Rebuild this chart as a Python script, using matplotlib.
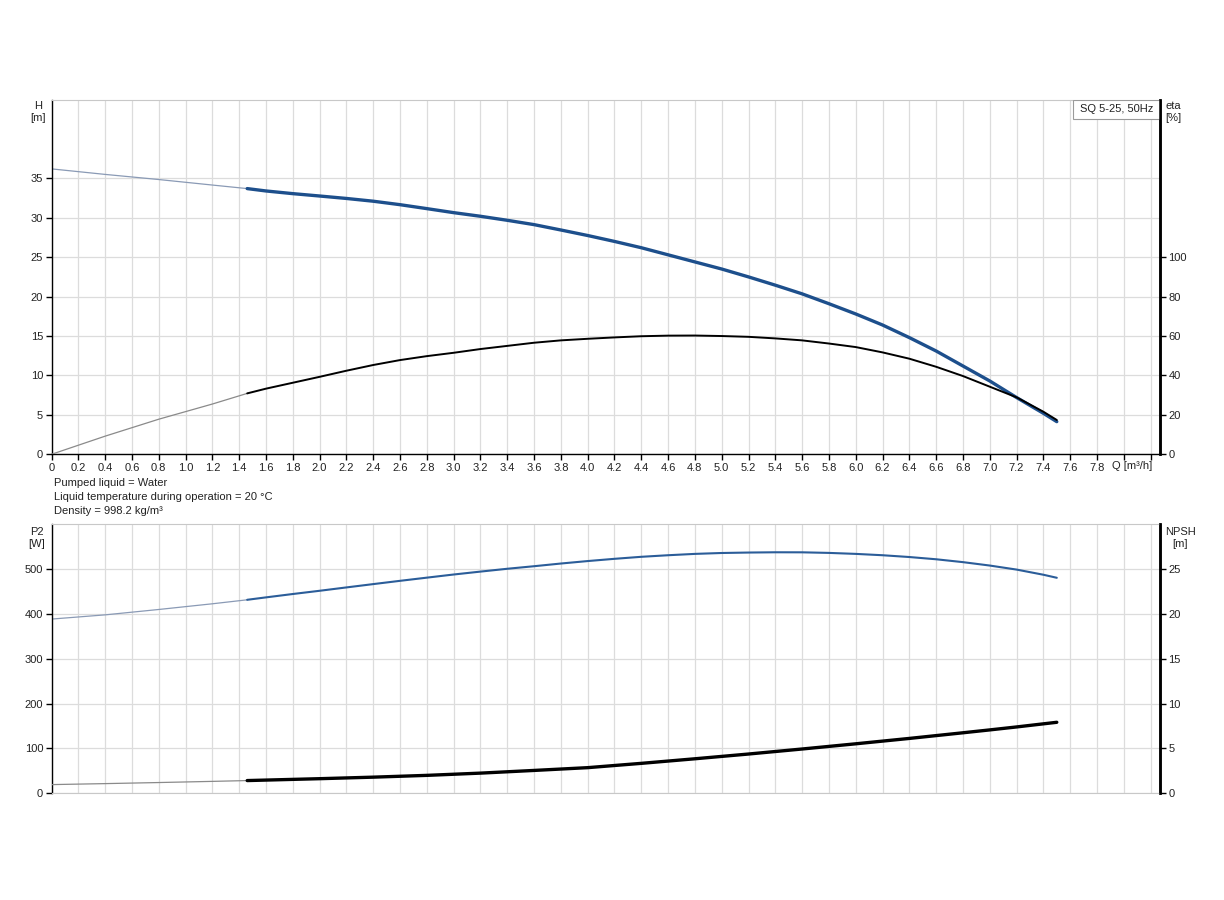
import numpy as np
import matplotlib
matplotlib.use("Agg")
import matplotlib.pyplot as plt
from matplotlib.patches import Rectangle
from matplotlib.transforms import blended_transform_factory

plt.rcParams['font.family'] = ['Liberation Sans', 'DejaVu Sans']

# ---------------- data ----------------
# head H [m] (thin part = outside recommended range)
q_h_thin = [0.0, 0.4, 0.8, 1.2, 1.46]
h_thin = [36.2, 35.5, 34.85, 34.15, 33.7]
q_h = [1.46, 1.6, 1.8, 2.0, 2.2, 2.4, 2.6, 2.8, 3.0, 3.2, 3.4, 3.6, 3.8, 4.0, 4.2, 4.4,
       4.6, 4.8, 5.0, 5.2, 5.4, 5.6, 5.8, 6.0, 6.2, 6.4, 6.6, 6.8, 7.0, 7.2, 7.4, 7.5]
h_vals = [33.7, 33.4, 33.06, 32.76, 32.45, 32.1, 31.66, 31.16, 30.65, 30.19, 29.68, 29.13,
          28.45, 27.75, 27.0, 26.2, 25.3, 24.4, 23.5, 22.5, 21.45, 20.35, 19.1, 17.8, 16.4,
          14.8, 13.1, 11.2, 9.3, 7.2, 5.2, 4.14]

# efficiency eta [%]
q_eta_thin = [0.0, 0.4, 0.8, 1.2, 1.46]
eta_thin = [0.0, 9.2, 17.8, 25.5, 30.9]
q_eta = q_h
eta_vals = [30.9, 33.3, 36.3, 39.3, 42.4, 45.3, 47.8, 49.8, 51.5, 53.4, 55.0, 56.6, 57.8,
            58.6, 59.3, 59.9, 60.2, 60.25, 60.0, 59.6, 58.8, 57.8, 56.2, 54.4, 51.7, 48.5,
            44.4, 39.7, 34.3, 28.9, 21.6, 17.4]

# shaft power P2 [W]
q_p_thin = [0.0, 0.4, 0.8, 1.2, 1.46]
p2_thin = [388.6, 398.0, 410.0, 422.7, 431.6]
q_p = q_h
p2_vals = [431.6, 437.0, 444.5, 451.7, 459.2, 466.6, 473.9, 481.0, 488.0, 494.5, 500.8,
           506.5, 512.5, 518.0, 523.0, 527.5, 531.0, 534.0, 536.0, 537.0, 537.6, 537.5,
           536.2, 534.0, 531.0, 527.0, 522.0, 515.6, 508.0, 499.0, 487.5, 480.7]

# NPSH [m]
q_n_thin = [0.0, 0.4, 0.8, 1.2, 1.46]
npsh_thin = [0.97, 1.08, 1.2, 1.33, 1.42]
q_n = [1.46, 2.0, 2.4, 2.8, 3.2, 3.6, 4.0, 4.4, 4.8, 5.2, 5.6, 6.0, 6.4, 6.8, 7.0, 7.2, 7.5]
npsh_vals = [1.42, 1.63, 1.8, 2.0, 2.25, 2.55, 2.86, 3.34, 3.85, 4.38, 4.94, 5.52, 6.12,
             6.75, 7.07, 7.4, 7.92]

x_ticks = [round(0.2 * i, 1) for i in range(42)]
x_labels = ['0'] + ['%.1f' % v for v in x_ticks[1:40]] + ['', '']
info_lines = ['Pumped liquid = Water',
              'Liquid temperature during operation = 20 \u00b0C',
              'Density = 998.2 kg/m\u00b3']

# ---------------- styling ----------------
FS = 8
BLUE = '#1d4f8c'
BLUE2 = '#2b5d99'
THIN_B = '#8a9ab5'
THIN_K = '#8a8a8a'
GRID = '#dcdcdc'
XMAX = 8.27

fig = plt.figure(figsize=(12.24, 9.0), dpi=100)
W, H = 1224.0, 900.0
left, right = 51.5 / W, 1160 / W
ax1 = fig.add_axes([left, 1 - 454.3 / H, right - left, (454.3 - 99.5) / H])
ax2 = fig.add_axes([left, 1 - 793.3 / H, right - left, (793.3 - 524.3) / H])


def style(ax, ylim, yticks, show_x):
    ax.set_xlim(0, XMAX)
    ax.set_ylim(*ylim)
    ax.set_xticks(x_ticks)
    ax.set_yticks(yticks)
    ax.grid(True, color=GRID, linewidth=0.9)
    ax.set_axisbelow(True)
    ax.spines['top'].set_color('#c8c8c8')
    ax.spines['top'].set_linewidth(0.8)
    ax.spines['left'].set_color('black')
    ax.spines['left'].set_linewidth(1.0)
    ax.spines['right'].set_color('black')
    ax.spines['right'].set_linewidth(1.8)
    if show_x:
        ax.spines['bottom'].set_color('black')
        ax.spines['bottom'].set_linewidth(1.0)
        ax.set_xticklabels(x_labels)
        ax.tick_params(axis='x', length=4, width=1.0, pad=2, labelsize=FS, colors='black',
                       labelcolor='#222222')
    else:
        ax.spines['bottom'].set_color('#c8c8c8')
        ax.spines['bottom'].set_linewidth(0.8)
        ax.tick_params(axis='x', length=0, labelbottom=False)
    ax.tick_params(axis='y', length=4, width=1.0, pad=2, labelsize=FS, labelcolor='#222222')


style(ax1, (0, 45), [0, 5, 10, 15, 20, 25, 30, 35], True)
style(ax2, (0, 600), [0, 100, 200, 300, 400, 500], False)

ax1r = ax1.twinx()
ax1r.set_ylim(0, 180)
ax1r.set_yticks([0, 20, 40, 60, 80, 100])
ax1r.tick_params(axis='y', length=4, width=1.0, pad=2, labelsize=FS, labelcolor='#222222')
ax2r = ax2.twinx()
ax2r.set_ylim(0, 30)
ax2r.set_yticks([0, 5, 10, 15, 20, 25])
ax2r.tick_params(axis='y', length=4, width=1.0, pad=2, labelsize=FS, labelcolor='#222222')
for a in (ax1r, ax2r):
    a.spines['right'].set_linewidth(1.8)
    a.spines['top'].set_visible(False)
    a.spines['bottom'].set_visible(False)
    a.spines['left'].set_visible(False)

# ---------------- curves ----------------
ax1.plot(q_h_thin, h_thin, color=THIN_B, lw=0.9, solid_capstyle='round')
ax1.plot(q_h, h_vals, color=BLUE, lw=2.4, solid_capstyle='round', solid_joinstyle='round')
ax1r.plot(q_eta_thin, eta_thin, color=THIN_K, lw=0.9)
ax1r.plot(q_eta, eta_vals, color='black', lw=1.4, solid_capstyle='round',
          solid_joinstyle='round')

ax2.plot(q_p_thin, p2_thin, color=THIN_B, lw=0.9)
ax2.plot(q_p, p2_vals, color=BLUE2, lw=1.5, solid_capstyle='round', solid_joinstyle='round')
ax2r.plot(q_n_thin, npsh_thin, color=THIN_K, lw=0.9)
ax2r.plot(q_n, npsh_vals, color='black', lw=2.4, solid_capstyle='round',
          solid_joinstyle='round')

# ---------------- texts ----------------
trans = blended_transform_factory(ax1.transData, ax1.transAxes)
ax1.text(8.06, -0.032, 'Q [m\u00b3/h]', transform=trans, ha='center', va='center',
         fontsize=FS, color='#222222')

# legend box
bx0 = (1073 - 51.5) / (1160 - 51.5)
bh = 19.0 / 354.8
ax1.add_patch(Rectangle((bx0, 1 - bh), 1 - bx0, bh, transform=ax1.transAxes,
                        facecolor='white', edgecolor='#9a9a9a', lw=0.8, zorder=5))
ax1.text((bx0 + 1) / 2, 1 - bh / 2, 'SQ 5-25, 50Hz', transform=ax1.transAxes,
         ha='center', va='center', fontsize=FS, color='#222222', zorder=6)

fig.text(38 / W, 1 - 101 / H, 'H\n[m]', ha='center', va='top', fontsize=FS,
         color='#222222', linespacing=1.25)
fig.text(1173 / W, 1 - 101 / H, 'eta\n[%]', ha='center', va='top', fontsize=FS,
         color='#222222', linespacing=1.25)
fig.text(37 / W, 1 - 527 / H, 'P2\n[W]', ha='center', va='top', fontsize=FS,
         color='#222222', linespacing=1.25)
fig.text(1180 / W, 1 - 527 / H, 'NPSH\n[m]', ha='center', va='top', fontsize=FS,
         color='#222222', linespacing=1.25)

for i, line in enumerate(info_lines):
    fig.text(53.5 / W, 1 - (482.7 + 14.2 * i) / H, line, ha='left', va='center',
             fontsize=FS, color='#222222')

fig.savefig('out.png', dpi=100, facecolor='white')
